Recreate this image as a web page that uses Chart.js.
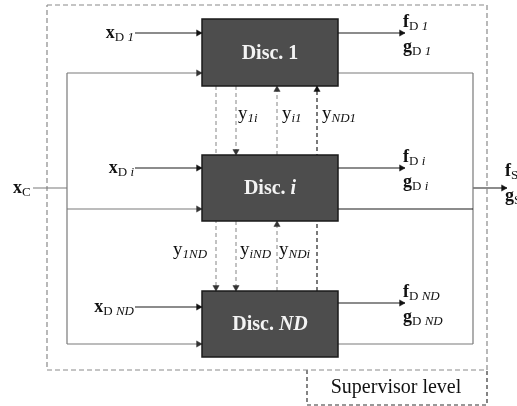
<!DOCTYPE html>
<html>
<head>
<meta charset="utf-8">
<script src="https://cdn.jsdelivr.net/npm/chart.js@4.4.1/dist/chart.umd.min.js"></script>
<style>
  body { margin: 0; background: #fff; }
  canvas { display: block; }
</style>
</head>
<body>
<canvas id="diagrama" width="517" height="406"></canvas>
<script>
// Cajas de las disciplinas: [x0, y0, x1, y1, texto, subindice cursiva]
var discs = [
    [202, 19, 338, 86, "Disc. ", "1"],
    [202, 155, 338, 221, "Disc. ", "i"],
    [202, 291, 338, 357, "Disc. ", "ND"]
];

// Conexiones: puntos, tipo de trazo, flecha al final
var links = [
    // entradas x_D
    { pts: [[135, 33], [202, 33]], kind: "solid", arrow: "right" },
    { pts: [[135, 168], [202, 168]], kind: "solid", arrow: "right" },
    { pts: [[135, 307], [202, 307]], kind: "solid", arrow: "right" },
    // x_C hacia las tres disciplinas
    { pts: [[33, 188], [67, 188]], kind: "grey", arrow: null },
    { pts: [[67, 73], [67, 344]], kind: "grey", arrow: null },
    { pts: [[67, 73], [202, 73]], kind: "grey", arrow: "right" },
    { pts: [[67, 209], [202, 209]], kind: "grey", arrow: "right" },
    { pts: [[67, 344], [202, 344]], kind: "grey", arrow: "right" },
    // salidas f_D, g_D
    { pts: [[338, 33], [405, 33]], kind: "solid", arrow: "right" },
    { pts: [[338, 168], [405, 168]], kind: "solid", arrow: "right" },
    { pts: [[338, 303], [405, 303]], kind: "solid", arrow: "right" },
    // hacia el supervisor
    { pts: [[338, 73], [473, 73]], kind: "grey", arrow: null },
    { pts: [[338, 209], [473, 209]], kind: "solid", arrow: null },
    { pts: [[338, 344], [473, 344]], kind: "grey", arrow: null },
    { pts: [[473, 73], [473, 344]], kind: "grey", arrow: null },
    { pts: [[473, 188], [507, 188]], kind: "solid", arrow: "right" },
    // acoplamientos y
    { pts: [[216, 86], [216, 291]], kind: "dgrey", arrow: "down" },
    { pts: [[236, 86], [236, 155]], kind: "dgrey", arrow: "down" },
    { pts: [[277, 155], [277, 86]], kind: "dgrey", arrow: "up" },
    { pts: [[317, 291], [317, 86]], kind: "dblack", arrow: "up" },
    { pts: [[236, 221], [236, 291]], kind: "dgrey", arrow: "down" },
    { pts: [[277, 291], [277, 221]], kind: "dgrey", arrow: "up" },
    // marcos
    { pts: [[47, 5], [487, 5], [487, 370], [47, 370], [47, 5]], kind: "frame", arrow: null },
    { pts: [[307, 370], [307, 405], [487, 405], [487, 370]], kind: "frame2", arrow: null }
];

// Etiquetas: [x, y base, alineación, [[texto, estilo], ...]]
var labels = [
    [134, 38, "right", [["x", "B"], ["D ", "s"], ["1", "si"]]],
    [134, 173, "right", [["x", "B"], ["D ", "s"], ["i", "si"]]],
    [134, 312, "right", [["x", "B"], ["D ", "s"], ["ND", "si"]]],
    [13, 193, "left", [["x", "B"], ["C", "s"]]],
    [403, 27, "left", [["f", "B"], ["D ", "s"], ["1", "si"]]],
    [403, 52, "left", [["g", "B"], ["D ", "s"], ["1", "si"]]],
    [403, 162, "left", [["f", "B"], ["D ", "s"], ["i", "si"]]],
    [403, 187, "left", [["g", "B"], ["D ", "s"], ["i", "si"]]],
    [403, 297, "left", [["f", "B"], ["D ", "s"], ["ND", "si"]]],
    [403, 322, "left", [["g", "B"], ["D ", "s"], ["ND", "si"]]],
    [505, 176, "left", [["f", "B"], ["S", "s"]]],
    [505, 201, "left", [["g", "B"], ["S", "s"]]],
    [238, 119, "left", [["y", "R"], ["1i", "si"]]],
    [282, 119, "left", [["y", "R"], ["i1", "si"]]],
    [322, 119, "left", [["y", "R"], ["ND1", "si"]]],
    [173, 255, "left", [["y", "R"], ["1ND", "si"]]],
    [240, 255, "left", [["y", "R"], ["iND", "si"]]],
    [279, 255, "left", [["y", "R"], ["NDi", "si"]]],
    [396, 393, "center", [["Supervisor level", "N"]]]
];

var SERIF = '"Liberation Serif", "DejaVu Serif", serif';
var fonts = {
    B: { font: "bold 18px " + SERIF, dy: 0 },
    R: { font: "19px " + SERIF, dy: 0 },
    N: { font: "20px " + SERIF, dy: 0 },
    s: { font: "13px " + SERIF, dy: 3 },
    si: { font: "italic 13px " + SERIF, dy: 3 }
};

var estilos = {
    solid: { color: "#1a1a1a", dash: [], width: 1.1 },
    grey: { color: "#7a7a7a", dash: [], width: 1.2 },
    dgrey: { color: "#9a9a9a", dash: [4, 3], width: 1.2 },
    dblack: { color: "#222222", dash: [4, 3], width: 1.2 },
    frame: { color: "#8a8a8a", dash: [5, 3], width: 1.2 },
    frame2: { color: "#333333", dash: [4, 3], width: 1.2 }
};

var AR = 3.6;
var rot = { right: 90, down: 180, up: 0 };

var datasets = links.map(function (l) {
    var st = estilos[l.kind];
    var data = l.pts.map(function (p) { return { x: p[0], y: p[1] }; });
    var radius = data.map(function () { return 0; });
    var rotation = data.map(function () { return 0; });
    if (l.arrow) {
        var last = data[data.length - 1];
        var p = { x: last.x, y: last.y };
        if (l.arrow === "right") p.x -= AR;
        if (l.arrow === "down") p.y -= AR;
        if (l.arrow === "up") p.y += AR;
        data.push(p);
        radius.push(AR);
        rotation.push(rot[l.arrow]);
    }
    var oscuro = l.kind === "dblack" || l.kind === "solid";
    return {
        data: data,
        showLine: true,
        borderColor: st.color,
        borderWidth: st.width,
        borderDash: st.dash,
        pointRadius: radius,
        pointRotation: rotation,
        pointStyle: "triangle",
        pointBackgroundColor: oscuro ? "#111" : "#333",
        pointBorderColor: oscuro ? "#111" : "#333",
        pointBorderWidth: 0.5,
        pointHoverRadius: 0,
        clip: false
    };
});

var dibujo = {
    id: "dibujo",
    afterDatasetsDraw: function (chart) {
        var ctx = chart.ctx;
        var xs = chart.scales.x, ys = chart.scales.y;
        ctx.save();
        discs.forEach(function (d) {
            var x0 = xs.getPixelForValue(d[0]), y0 = ys.getPixelForValue(d[1]);
            var x1 = xs.getPixelForValue(d[2]), y1 = ys.getPixelForValue(d[3]);
            ctx.fillStyle = "#4d4d4d";
            ctx.fillRect(x0, y0, x1 - x0, y1 - y0);
            ctx.strokeStyle = "#1a1a1a";
            ctx.lineWidth = 1.5;
            ctx.strokeRect(x0, y0, x1 - x0, y1 - y0);
            var f1 = "bold 20px " + SERIF;
            var f2 = d[5] === "1" ? f1 : "bold italic 20px " + SERIF;
            ctx.font = f1;
            var w1 = ctx.measureText(d[4]).width;
            ctx.font = f2;
            var w2 = ctx.measureText(d[5]).width;
            var sx = (x0 + x1) / 2 - (w1 + w2) / 2;
            var by = (y0 + y1) / 2 + 6;
            ctx.fillStyle = "#f4f4f4";
            ctx.textAlign = "left";
            ctx.textBaseline = "alphabetic";
            ctx.font = f1;
            ctx.fillText(d[4], sx, by);
            ctx.font = f2;
            ctx.fillText(d[5], sx + w1, by);
        });
        ctx.fillStyle = "#111";
        labels.forEach(function (lb) {
            var total = 0;
            lb[3].forEach(function (r) {
                ctx.font = fonts[r[1]].font;
                total += ctx.measureText(r[0]).width;
            });
            var x = xs.getPixelForValue(lb[0]);
            var y = ys.getPixelForValue(lb[1]);
            if (lb[2] === "right") x -= total;
            if (lb[2] === "center") x -= total / 2;
            lb[3].forEach(function (r) {
                ctx.font = fonts[r[1]].font;
                ctx.fillText(r[0], x, y + fonts[r[1]].dy);
                x += ctx.measureText(r[0]).width;
            });
        });
        ctx.restore();
    }
};

var chart = new Chart(document.getElementById("diagrama").getContext("2d"), {
    type: "scatter",
    data: { datasets: datasets },
    options: {
        responsive: false,
        animation: false,
        devicePixelRatio: 1,
        layout: { padding: 0, autoPadding: false },
        events: [],
        plugins: { legend: { display: false }, tooltip: { enabled: false } },
        scales: {
            x: { type: "linear", min: 0, max: 517, display: false },
            y: { type: "linear", min: 0, max: 406, reverse: true, display: false }
        }
    },
    plugins: [dibujo]
});
</script>
</body>
</html>
